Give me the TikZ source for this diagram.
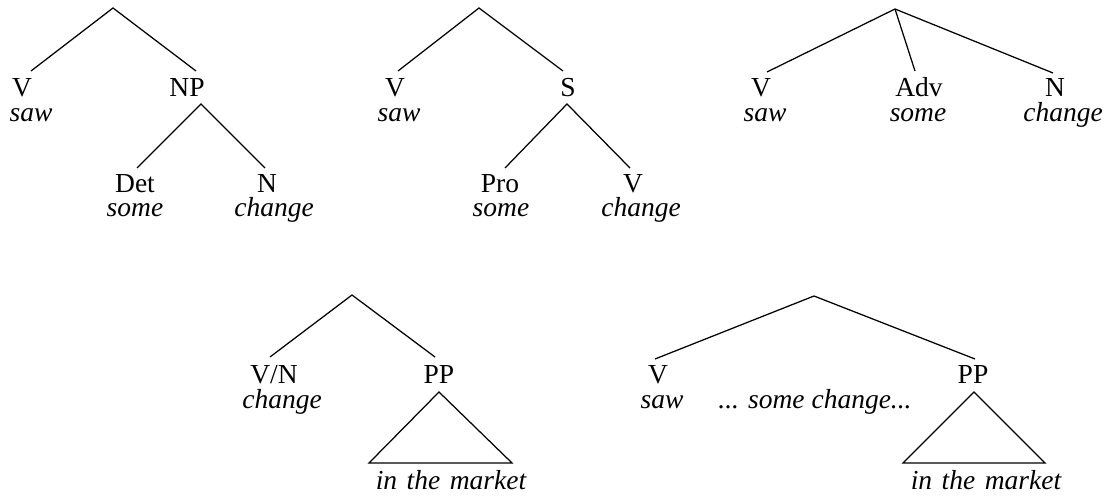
\documentclass[tikz,border=0pt]{standalone}
\usepackage{fontspec}
\setmainfont{Liberation Serif}
\begin{document}
\begin{tikzpicture}[x=1pt,y=-1pt,
  cat/.style={anchor=base,inner sep=0pt,text depth=0pt,font=\fontsize{27.5}{33}\selectfont},
  word/.style={anchor=base,inner sep=0pt,text height=0.7em,font=\fontsize{27.5}{33}\selectfont\itshape},
  branch/.style={line width=1.25pt},
  roof/.style={line width=1.25pt,line join=miter}]
\useasboundingbox (0,0) rectangle (1109,497);

% ---- tree 1: [V saw] [NP [Det some] [N change]]
\coordinate (t1) at (113,8);
\coordinate (t1l) at (31,71);
\coordinate (t1r) at (196,71);
\coordinate (np) at (201,104);
\coordinate (npl) at (137,168);
\coordinate (npr) at (265,168);
\node[cat] (t1v) at (22,97) {V};
\node[word] (t1saw) at (31,122) {saw};
\node[cat] (t1np) at (187,97) {NP};
\node[cat] (t1det) at (135,193) {Det};
\node[word] (t1some) at (135,217) {some};
\node[cat] (t1n) at (267,193) {N};
\node[word] (t1chg) at (274,217) {change};
\draw[branch] (t1l) -- (t1) -- (t1r);
\draw[branch] (npl) -- (np) -- (npr);

% ---- tree 2: [V saw] [S [Pro some] [V change]]
\coordinate (t2) at (479,8);
\coordinate (t2l) at (398,71);
\coordinate (t2r) at (563,71);
\coordinate (s) at (567,104);
\coordinate (sl) at (505,168);
\coordinate (sr) at (630,168);
\node[cat] (t2v) at (395,97) {V};
\node[word] (t2saw) at (399,122) {saw};
\node[cat] (t2s) at (568,97) {S};
\node[cat] (t2pro) at (500,193) {Pro};
\node[word] (t2some) at (501,217) {some};
\node[cat] (t2v2) at (633,193) {V};
\node[word] (t2chg) at (641,217) {change};
\draw[branch] (t2l) -- (t2) -- (t2r);
\draw[branch] (sl) -- (s) -- (sr);

% ---- tree 3: [V saw] [Adv some] [N change]
\coordinate (t3) at (895,9);
\coordinate (t3l) at (767,72);
\coordinate (t3m) at (915,71);
\coordinate (t3r) at (1053,73);
\node[cat] (t3v) at (761,97) {V};
\node[word] (t3saw) at (765,122) {saw};
\node[cat] (t3adv) at (919,97) {Adv};
\node[word] (t3some) at (918,122) {some};
\node[cat] (t3n) at (1055,97) {N};
\node[word] (t3chg) at (1063,122) {change};
\draw[branch] (t3l) -- (t3) -- (t3r);
\draw[branch] (t3) -- (t3m);

% ---- tree 4: [V/N change] [PP in the market]
\coordinate (t4) at (352,295);
\coordinate (t4l) at (270,357);
\coordinate (t4r) at (435,357);
\coordinate (pp4) at (439,392);
\coordinate (pp4l) at (369,463);
\coordinate (pp4r) at (512,463);
\node[cat] (t4vn) at (274,383) {V/N};
\node[word] (t4chg) at (282,408) {change};
\node[cat] (t4pp) at (439,383) {PP};
\node[word] (t4mkt) at (451,489) {\spaceskip=9.5pt in the market};
\draw[branch] (t4l) -- (t4) -- (t4r);
\draw[roof] (pp4) -- (pp4l) -- (pp4r) -- cycle;

% ---- tree 5: [V saw] ... [PP in the market]
\coordinate (t5) at (814,296);
\coordinate (t5l) at (655,359);
\coordinate (t5r) at (975,359);
\coordinate (pp5) at (974,392);
\coordinate (pp5l) at (903,463);
\coordinate (pp5r) at (1045,463);
\node[cat] (t5v) at (658,383) {V};
\node[word] (t5saw) at (662,408) {saw};
\node[word] (t5mid) at (815,408) {... some change...};
\node[cat] (t5pp) at (973,383) {PP};
\node[word] (t5mkt) at (986,489) {\spaceskip=9.5pt in the market};
\draw[branch] (t5l) -- (t5) -- (t5r);
\draw[roof] (pp5) -- (pp5l) -- (pp5r) -- cycle;
\end{tikzpicture}
\end{document}
